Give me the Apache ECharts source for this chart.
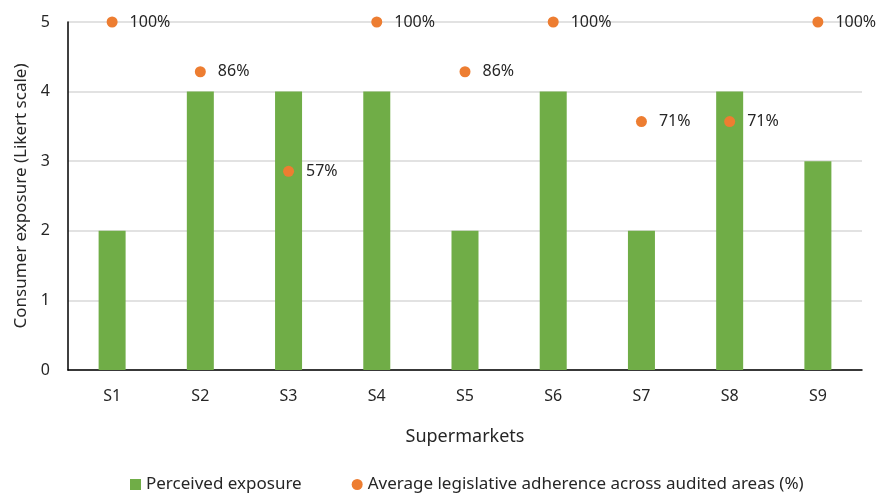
<!DOCTYPE html>
<html>
<head>
<meta charset="utf-8">
<script src="https://cdn.jsdelivr.net/npm/echarts@6/dist/echarts.min.js"></script>
<style>
  html, body { margin: 0; padding: 0; background: #fff; }
  #chart { width: 879px; height: 494px; }
</style>
</head>
<body>
<div id="chart"></div>
<script>
const categories = ['S1', 'S2', 'S3', 'S4', 'S5', 'S6', 'S7', 'S8', 'S9']
const perceivedExposure = [2, 4, 4, 4, 2, 4, 2, 4, 3]
// adherence in percent, plotted against a hidden 0-100 axis
const adherence = [100, 85.7, 57.1, 100, 85.7, 100, 71.4, 71.4, 100]
const yTicks = [0, 1, 2, 3, 4, 5]

const font = '"Noto Sans", "Open Sans", sans-serif'
const textColor = '#262626'
const chart = echarts.init(document.getElementById('chart'))

chart.setOption({
  animation: false,
  textStyle: { fontFamily: font },
  grid: { left: 68, right: 17, top: 22, bottom: 124 },
  legend: {
    bottom: -4,
    left: 125,
    itemGap: 50,
    itemWidth: 11,
    itemHeight: 11,
    textStyle: { fontSize: 17, color: textColor, fontFamily: font },
    data: [
      { name: 'Perceived exposure', icon: 'rect' },
      { name: 'Average legislative adherence across audited areas (%)', icon: 'circle' }
    ]
  },
  xAxis: {
    type: 'category',
    data: categories,
    name: 'Supermarkets',
    nameLocation: 'middle',
    nameGap: 58,
    nameTextStyle: { fontSize: 18, color: textColor },
    axisLine: { lineStyle: { color: '#000', width: 1.5 } },
    axisTick: { show: false },
    axisLabel: { fontSize: 16, color: textColor, margin: 18 }
  },
  yAxis: [
    {
      type: 'value',
      min: yTicks[0],
      max: yTicks[yTicks.length - 1],
      interval: 1,
      name: 'Consumer exposure (Likert scale)',
      nameLocation: 'middle',
      nameGap: 36,
      nameTextStyle: { fontSize: 17, color: textColor },
      axisLine: { show: true, lineStyle: { color: '#000', width: 1.5 } },
      axisTick: { show: false },
      axisLabel: { fontSize: 16, color: textColor, margin: 18 },
      splitLine: { lineStyle: { color: '#d9d9d9', width: 1.5 } }
    },
    {
      type: 'value',
      min: 0,
      max: 100,
      show: false,
      splitLine: { show: false }
    }
  ],
  series: [
    {
      name: 'Perceived exposure',
      type: 'bar',
      data: perceivedExposure,
      barWidth: 27,
      itemStyle: { color: '#70ad47' }
    },
    {
      name: 'Average legislative adherence across audited areas (%)',
      type: 'scatter',
      yAxisIndex: 1,
      data: adherence,
      symbolSize: 11,
      itemStyle: { color: '#ed7d31', opacity: 1 },
      label: {
        show: true,
        position: 'right',
        distance: 12,
        fontSize: 16,
        color: textColor,
        formatter: p => Math.round(p.value) + '%'
      }
    }
  ]
})
</script>
</body>
</html>
